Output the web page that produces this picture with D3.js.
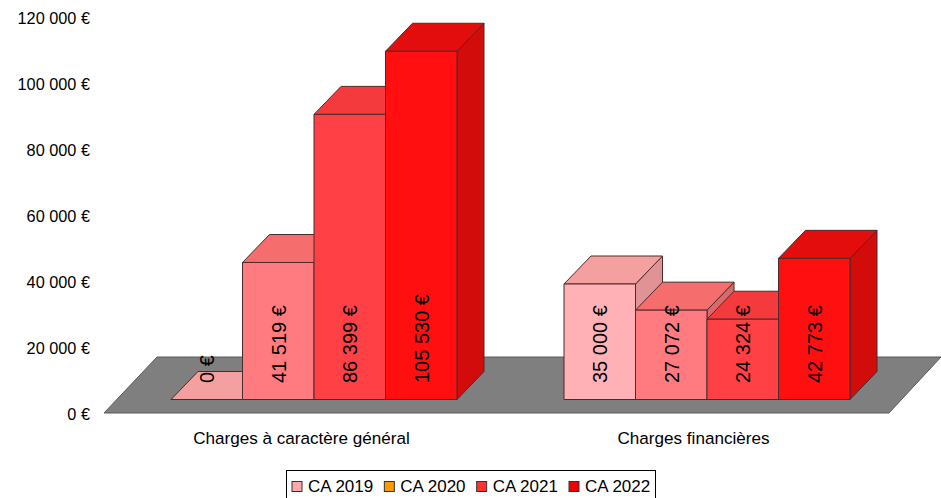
<!DOCTYPE html>
<html><head><meta charset="utf-8">
<script src="https://cdn.jsdelivr.net/npm/d3@7"></script>
<style>html,body{margin:0;background:#fff}svg{display:block}text{font-family:"Liberation Sans",Arial,sans-serif;fill:#000}</style>
</head><body><svg id="c" width="941" height="498"></svg>
<script>
const categories = ["Charges à caractère général", "Charges financières"];
const seriesNames = ["CA 2019", "CA 2020", "CA 2021", "CA 2022"];
const chargesGenerales = [0, 41519, 86399, 105530];
const chargesFinancieres = [35000, 27072, 24324, 42773];
const tickValues = [0, 20000, 40000, 60000, 80000, 100000, 120000];
const frontColors = ["#ffb1b5", "#ff7b7f", "#ff4145", "#ff0f0f"];
const topColors = ["#f4a0a0", "#f56d6d", "#f43a3d", "#e30d0d"];
const sideColors = ["#e09295", "#d8686b", "#d63538", "#d20b0b"];
const legendColors = ["#ffa6a6", "#ff9900", "#ff3333", "#ee0000"];
const rows = [chargesGenerales, chargesFinancieres];

const fmt = v => d3.format(",")(v).replace(/,/g, " ") + " €";
const svg = d3.select("#c");
const y = d3.scaleLinear().domain([0, 120000]).range([413.5, 17.5]);
const base = 399.5, dx = 27, dy = 28, barW = 71.5;
const groupX = d3.scaleOrdinal().domain(categories).range([171, 564]);
const barX = d3.scaleBand().domain(seriesNames).range([0, barW * 4]);
const stroke = "#4a2c2c";

// floor
svg.append("path")
  .attr("d", d3.line()([[104, 413], [157, 357], [941, 357], [889, 413]]) + "Z")
  .attr("fill", "#7f7f7f").attr("stroke", "#5a5a5a").attr("stroke-width", 1);

// axis labels
const yAxis = d3.axisLeft(y).tickValues(tickValues).tickFormat(fmt).tickSize(0).tickPadding(0);
const ga = svg.append("g").attr("transform", "translate(90,1)").call(yAxis);
ga.select(".domain").remove();
ga.selectAll("text").style("font-size", "16.3px").style("font-family", '"Liberation Sans"').attr("fill", "#000");

rows.forEach((vals, r) => {
  const g = svg.append("g");
  const x0 = groupX(categories[r]);
  vals.forEach((v, i) => {
    const xl = x0 + barX(seriesNames[i]), xr = xl + barX.bandwidth();
    const h = y(0) - y(v), t = base - h;
    const b = g.append("g").attr("stroke", stroke).attr("stroke-width", 1).attr("stroke-linejoin", "round");
    b.append("path").attr("d", d3.line()([[xr, base], [xr + dx, base - dy], [xr + dx, t - dy], [xr, t]]) + "Z").attr("fill", sideColors[i]);
    b.append("path").attr("d", d3.line()([[xl, t], [xl + dx, t - dy], [xr + dx, t - dy], [xr, t]]) + "Z").attr("fill", topColors[i]);
    if (h > 0) b.append("rect").attr("x", xl).attr("y", t).attr("width", xr - xl).attr("height", h).attr("fill", frontColors[i]);
  });
  vals.forEach((v, i) => {
    const xc = x0 + barX(seriesNames[i]) + barX.bandwidth() / 2;
    g.append("text").attr("transform", `translate(${xc + 7.5},383) rotate(-90)`)
      .style("font-size", "20px").text(fmt(v));
  });
  svg.append("text").attr("x", [301.5, 693.5][r]).attr("y", 443.5).attr("text-anchor", "middle")
    .style("font-size", "17.1px").text(categories[r]);
});

// legend
svg.append("rect").attr("x", 286.5).attr("y", 470.5).attr("width", 369).attr("height", 40).attr("fill", "#fff").attr("stroke", "#000");
const legendX = d3.scalePoint().domain(seriesNames).range([292, 569]);
seriesNames.forEach((n, i) => {
  const lx = legendX(n);
  svg.append("rect").attr("x", lx).attr("y", 481.5).attr("width", 10).attr("height", 10)
    .attr("fill", legendColors[i]).attr("stroke", "#333");
  svg.append("text").attr("x", lx + 16).attr("y", 492).style("font-size", "17px").text(n);
});
</script></body></html>
